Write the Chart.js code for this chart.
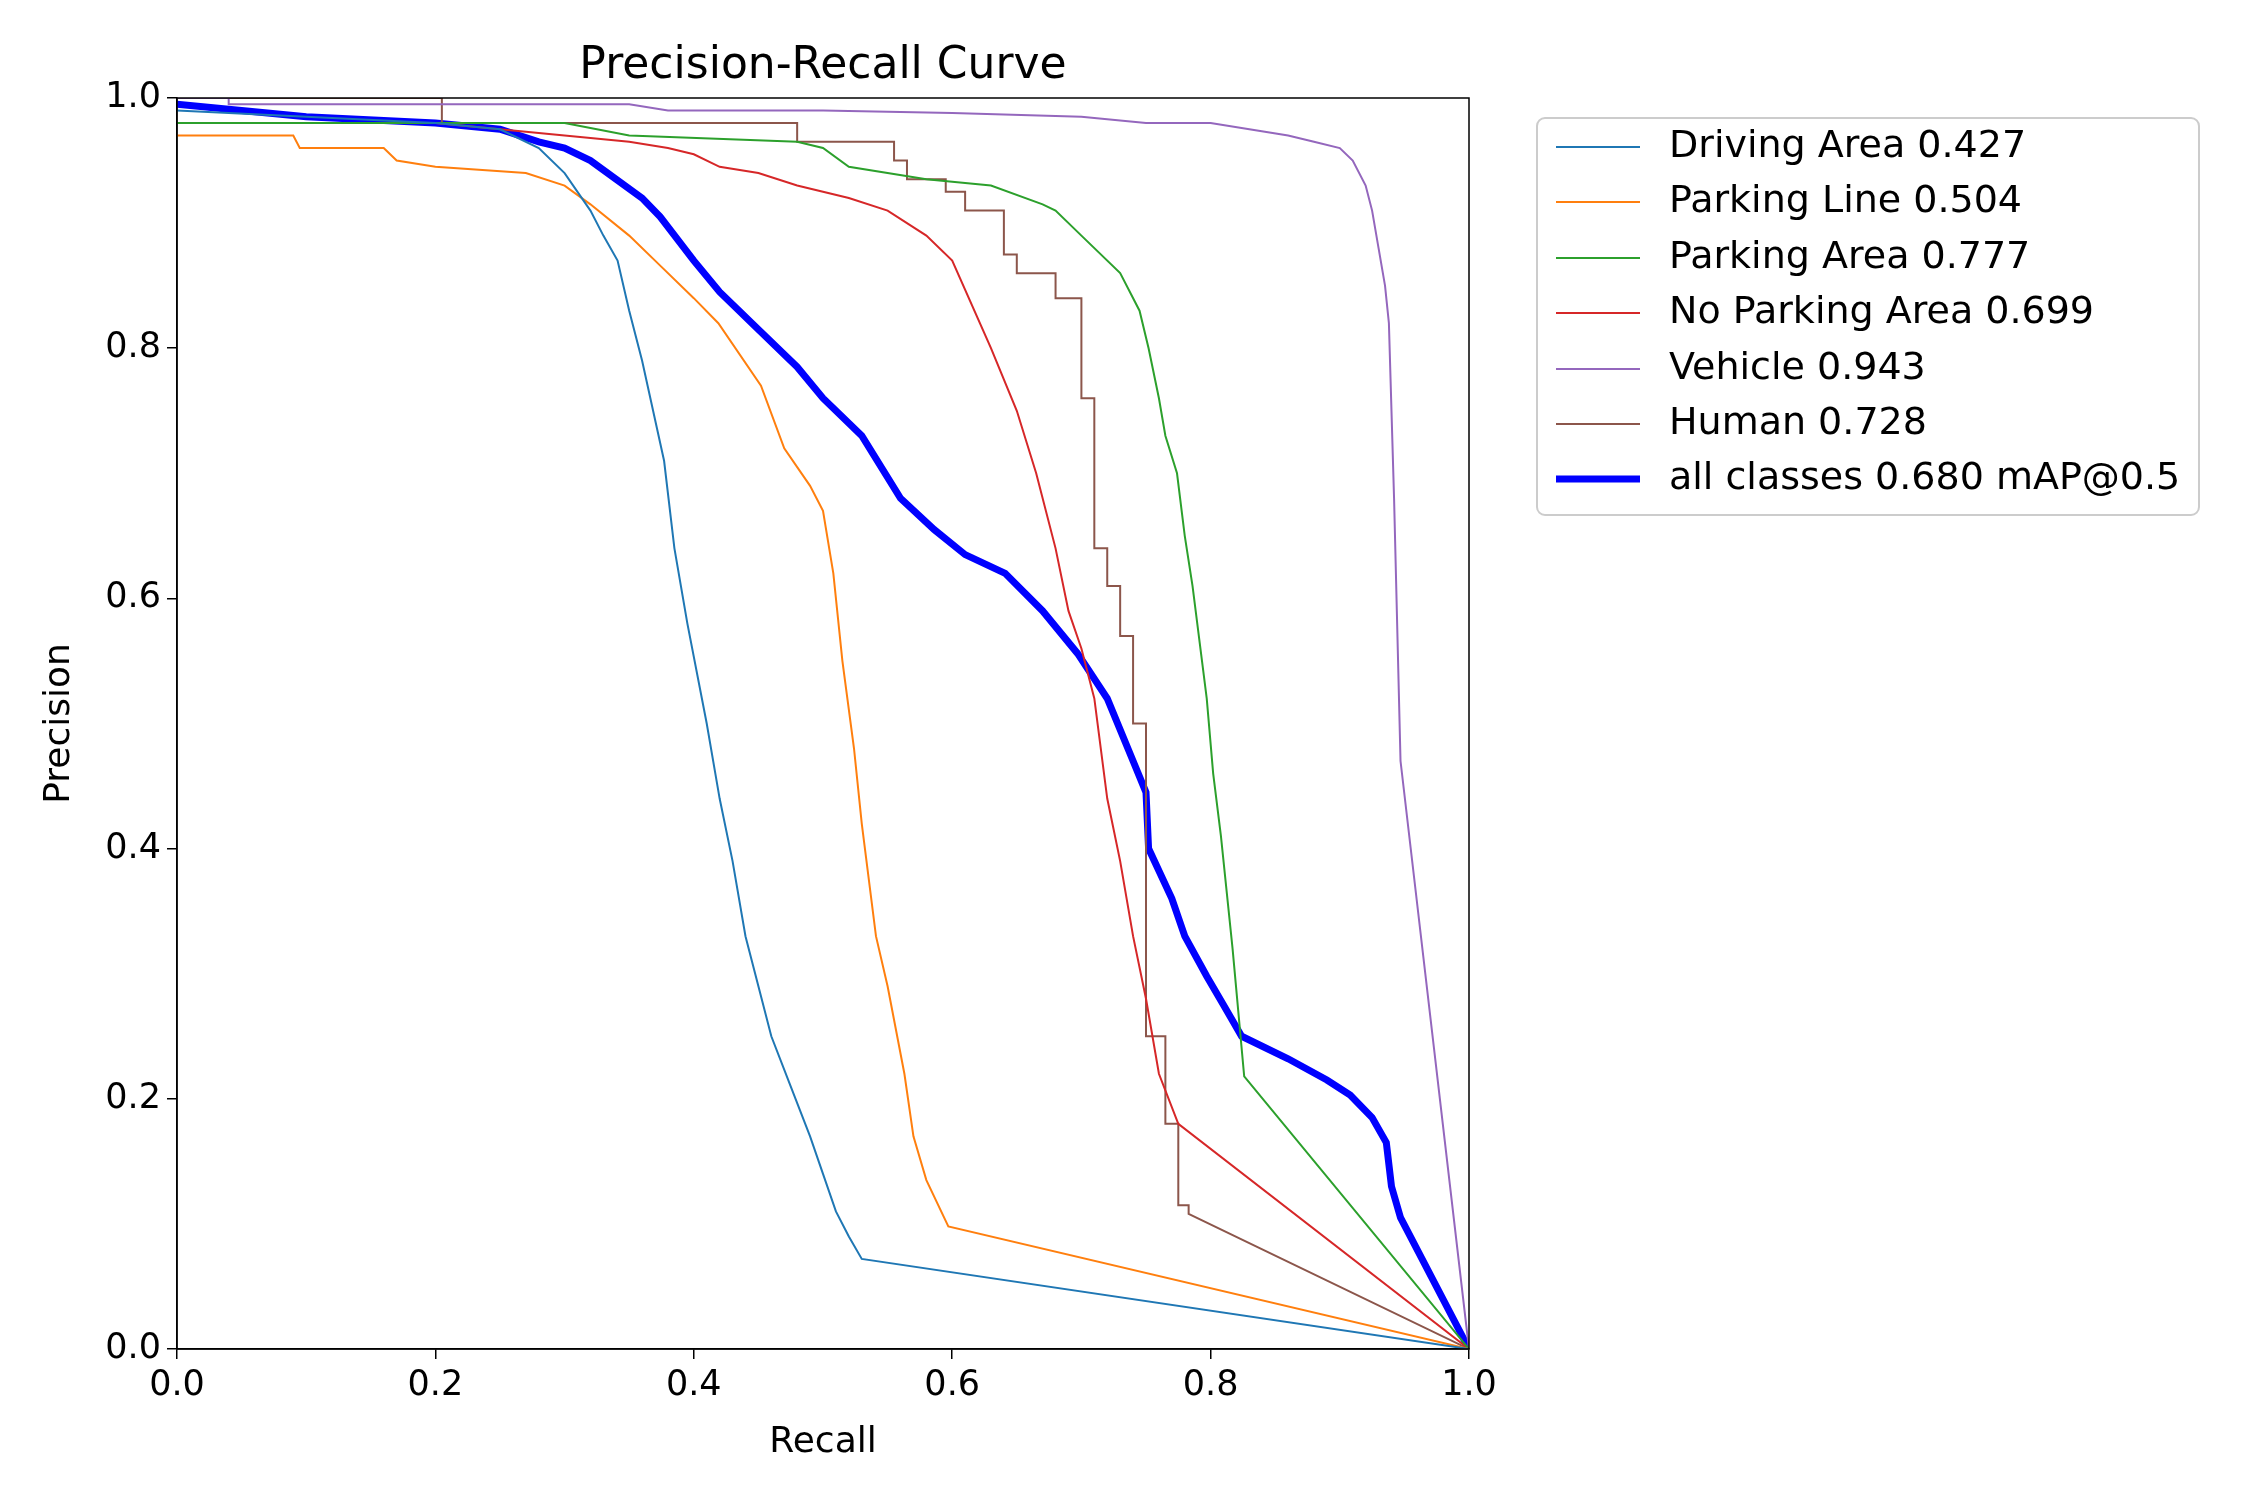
<!DOCTYPE html>
<html><head><meta charset="utf-8">
<script src="https://cdn.jsdelivr.net/npm/chart.js@4"></script>
<style>body{margin:0;background:#fff}</style>
</head><body>
<canvas id="c" width="2250" height="1500"></canvas>
<script>
const names = ["Driving Area 0.427","Parking Line 0.504","Parking Area 0.777","No Parking Area 0.699","Vehicle 0.943","Human 0.728","all classes 0.680 mAP@0.5"];
const colors = ["#1f77b4","#ff7f0e","#2ca02c","#d62728","#9467bd","#8c564b","#0000ff"];
const tickValues = [0,0.2,0.4,0.6,0.8,1.0];

const drivingR = [0,0.1,0.2,0.25,0.28,0.3,0.32,0.33,0.341,0.35,0.36,0.377,0.385,0.395,0.41,0.42,0.43,0.44,0.45,0.46,0.475,0.49,0.50,0.51,0.52,0.53,1];
const drivingP = [0.99,0.985,0.98,0.975,0.96,0.94,0.91,0.89,0.87,0.83,0.79,0.71,0.64,0.58,0.50,0.44,0.39,0.33,0.29,0.25,0.21,0.17,0.14,0.11,0.09,0.072,0];

const lineR = [0,0.09,0.095,0.16,0.17,0.2,0.27,0.3,0.32,0.35,0.374,0.40,0.419,0.452,0.47,0.49,0.50,0.508,0.515,0.524,0.53,0.541,0.55,0.563,0.57,0.58,0.597,1];
const lineP = [0.97,0.97,0.96,0.96,0.95,0.945,0.94,0.93,0.915,0.89,0.866,0.84,0.82,0.77,0.72,0.69,0.67,0.62,0.55,0.48,0.42,0.33,0.29,0.22,0.17,0.135,0.098,0];

const areaR = [0,0.3,0.35,0.48,0.5,0.52,0.58,0.63,0.67,0.68,0.70,0.73,0.745,0.752,0.76,0.765,0.774,0.78,0.786,0.797,0.802,0.808,0.817,0.826,1];
const areaP = [0.98,0.98,0.97,0.965,0.96,0.945,0.935,0.93,0.915,0.91,0.89,0.86,0.83,0.80,0.76,0.73,0.70,0.65,0.61,0.52,0.46,0.41,0.32,0.218,0];

const noParkR = [0,0.2,0.25,0.3,0.35,0.38,0.4,0.42,0.45,0.48,0.52,0.55,0.58,0.60,0.63,0.65,0.665,0.68,0.69,0.70,0.71,0.72,0.73,0.74,0.75,0.76,0.775,1];
const noParkP = [0.98,0.98,0.975,0.97,0.965,0.96,0.955,0.945,0.94,0.93,0.92,0.91,0.89,0.87,0.80,0.75,0.70,0.64,0.59,0.56,0.52,0.44,0.39,0.33,0.28,0.22,0.18,0];

const vehicleR = [0,0.04,0.04,0.35,0.38,0.5,0.6,0.7,0.75,0.8,0.83,0.86,0.88,0.9,0.91,0.92,0.925,0.93,0.935,0.938,0.942,0.947,1];
const vehicleP = [1,1,0.995,0.995,0.99,0.99,0.988,0.985,0.98,0.98,0.975,0.97,0.965,0.96,0.95,0.93,0.91,0.88,0.85,0.82,0.68,0.47,0];

const humanR = [0,0.205,0.205,0.48,0.48,0.555,0.555,0.565,0.565,0.595,0.595,0.61,0.61,0.64,0.64,0.65,0.65,0.68,0.68,0.70,0.70,0.71,0.71,0.72,0.72,0.73,0.73,0.74,0.74,0.75,0.75,0.765,0.765,0.775,0.775,0.783,0.783,1];
const humanP = [1,1,0.98,0.98,0.965,0.965,0.95,0.95,0.935,0.935,0.925,0.925,0.91,0.91,0.875,0.875,0.86,0.86,0.84,0.84,0.76,0.76,0.64,0.64,0.61,0.61,0.57,0.57,0.50,0.50,0.25,0.25,0.18,0.18,0.115,0.115,0.108,0];

const allR = [0,0.1,0.2,0.25,0.28,0.3,0.32,0.34,0.36,0.374,0.40,0.42,0.45,0.48,0.50,0.53,0.56,0.586,0.61,0.641,0.67,0.697,0.72,0.74,0.75,0.752,0.77,0.78,0.797,0.81,0.824,0.86,0.89,0.908,0.925,0.936,0.94,0.947,1];
const allP = [0.995,0.985,0.98,0.975,0.965,0.96,0.95,0.935,0.92,0.905,0.87,0.845,0.815,0.785,0.76,0.73,0.68,0.655,0.635,0.62,0.59,0.556,0.52,0.47,0.445,0.40,0.36,0.33,0.298,0.275,0.25,0.232,0.215,0.203,0.185,0.165,0.13,0.105,0];

const series = [[drivingR,drivingP],[lineR,lineP],[areaR,areaP],[noParkR,noParkP],[vehicleR,vehicleP],[humanR,humanP],[allR,allP]];
const datasets = series.map((s,i)=>({
  label:names[i],
  data:s[0].map((x,j)=>({x:x,y:s[1][j]})),
  borderColor:colors[i], borderWidth: i===6?7:2,
  pointRadius:0, tension:0, fill:false
}));

const FONT = "DejaVu Sans";
const deco = {
  id:'deco',
  afterDraw(chart){
    const ctx=chart.ctx, a=chart.chartArea;
    ctx.save();
    ctx.strokeStyle='#000'; ctx.lineWidth=1.5;
    ctx.strokeRect(a.left,a.top,a.right-a.left,a.bottom-a.top);
    ctx.fillStyle='#000'; ctx.font='44px "'+FONT+'"'; ctx.textAlign='center'; ctx.textBaseline='alphabetic';
    ctx.fillText('Precision-Recall Curve',(a.left+a.right)/2,a.top-20);
    ctx.font='36px "'+FONT+'"'; ctx.textBaseline='middle';
    ctx.fillText('Recall',(a.left+a.right)/2,1443);
    ctx.save(); ctx.translate(60,(a.top+a.bottom)/2); ctx.rotate(-Math.PI/2);
    ctx.fillText('Precision',0,0); ctx.restore();
    // legend
    const bx=1537,by=118,bw=662,bh=397,r=8;
    ctx.beginPath(); ctx.roundRect(bx,by,bw,bh,r);
    ctx.fillStyle='rgba(255,255,255,0.8)'; ctx.fill();
    ctx.strokeStyle='#cccccc'; ctx.lineWidth=2; ctx.stroke();
    ctx.font='38px "'+FONT+'"'; ctx.textAlign='left'; ctx.textBaseline='middle';
    const rows=[147,202,258,313,369,424,479];
    names.forEach((n,i)=>{
      ctx.beginPath(); ctx.moveTo(1556,rows[i]); ctx.lineTo(1640,rows[i]);
      ctx.strokeStyle=colors[i]; ctx.lineWidth=i===6?7:2; ctx.stroke();
      ctx.fillStyle='#000'; ctx.fillText(n,1669,rows[i]);
    });
    ctx.restore();
  }
};

new Chart(document.getElementById('c'),{
  type:'line',
  data:{datasets},
  options:{
    responsive:false, animation:false, devicePixelRatio:1,
    layout:{padding:{top:98,right:781,left:0,bottom:0}},
    plugins:{legend:{display:false},tooltip:{enabled:false}},
    scales:{
      x:{type:'linear',min:0,max:1,
        afterBuildTicks(s){s.ticks=tickValues.map(v=>({value:v}));},
        afterFit(s){s.height=151;},
        grid:{display:true,drawOnChartArea:false,drawTicks:true,tickLength:10,color:'#000',lineWidth:1.5},
        border:{display:true,color:'#000',width:1.5},
        ticks:{color:'#000',font:{family:FONT,size:35},padding:6,maxRotation:0,callback:v=>v.toFixed(1)},
        title:{display:false}
      },
      y:{type:'linear',min:0,max:1,
        afterBuildTicks(s){s.ticks=tickValues.map(v=>({value:v}));},
        afterFit(s){s.width=177;},
        grid:{display:true,drawOnChartArea:false,drawTicks:true,tickLength:10,color:'#000',lineWidth:1.5},
        border:{display:true,color:'#000',width:1.5},
        ticks:{color:'#000',font:{family:FONT,size:35},padding:6,callback:v=>v.toFixed(1)},
        title:{display:false}
      }
    }
  },
  plugins:[deco]
});
</script>
</body></html>
